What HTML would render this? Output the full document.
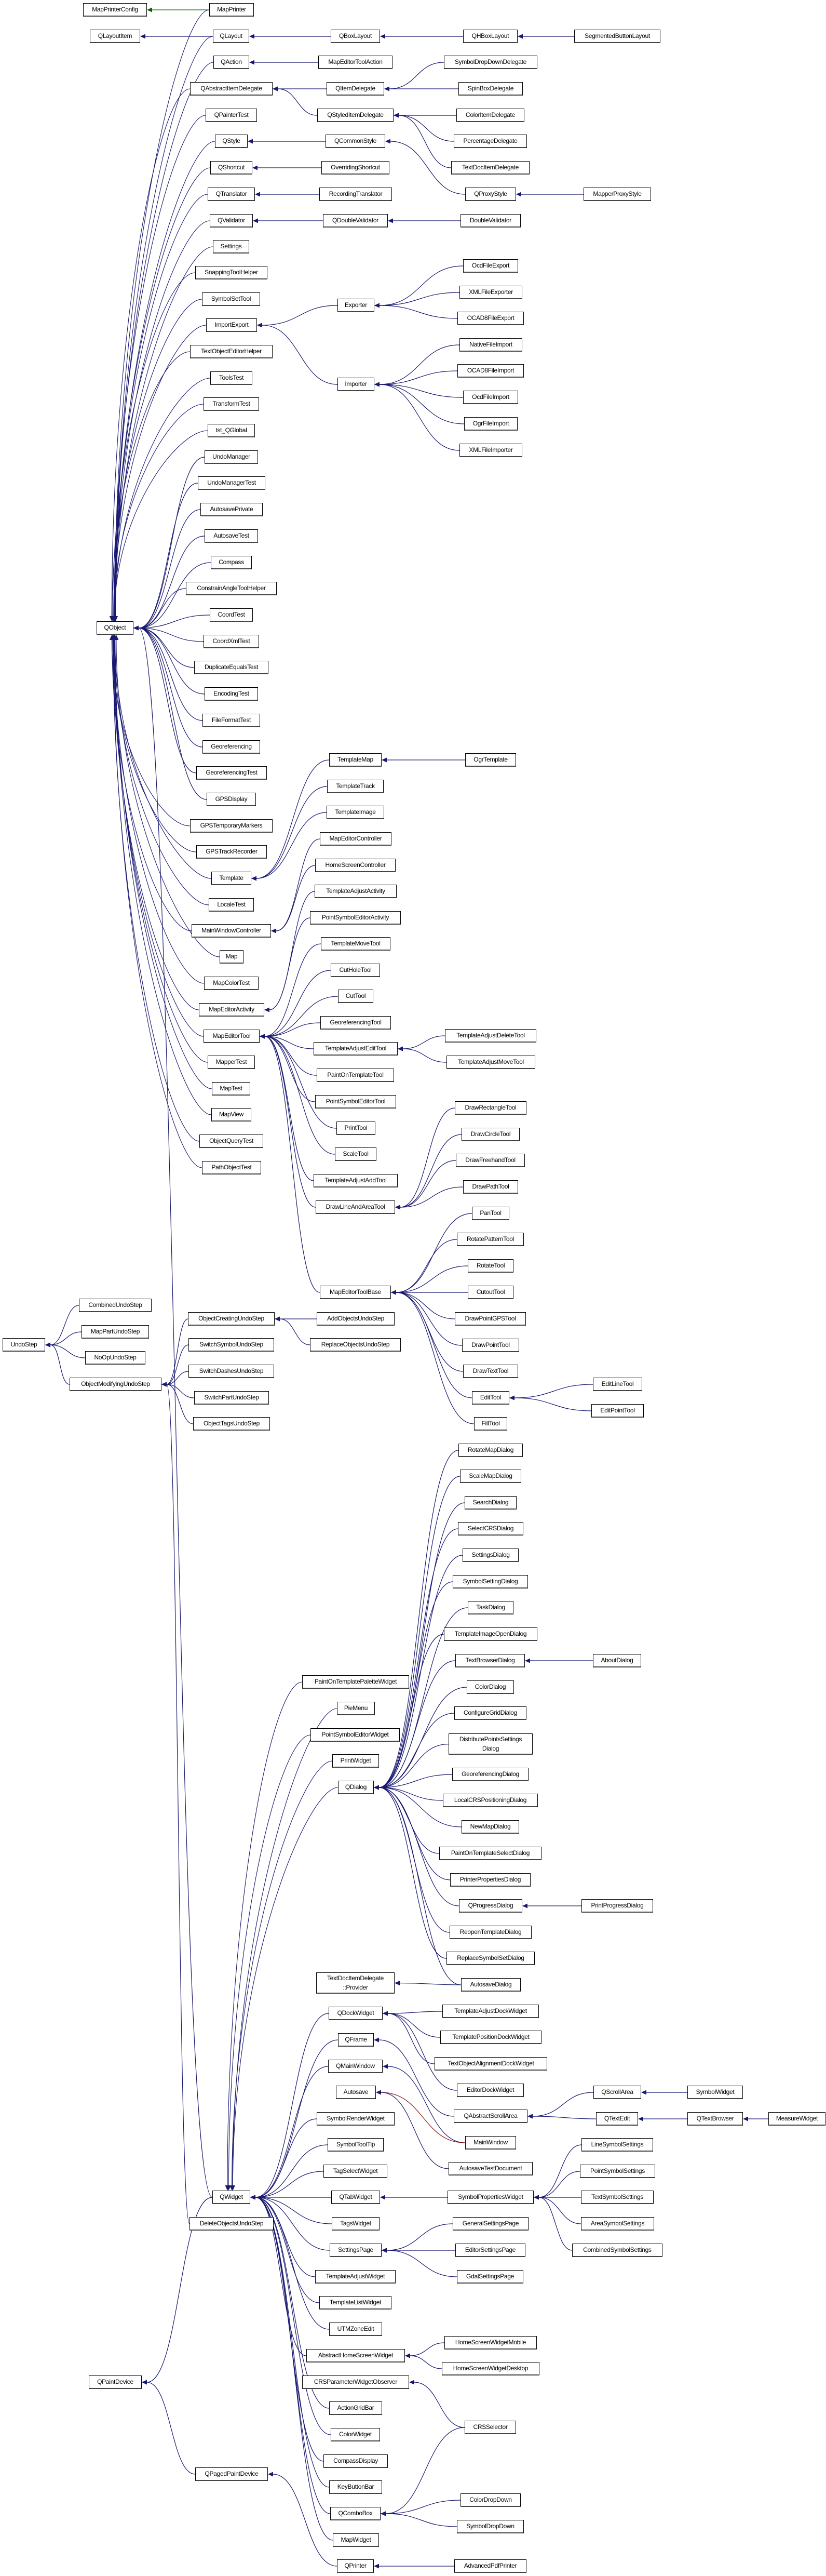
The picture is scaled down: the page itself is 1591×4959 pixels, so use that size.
<!DOCTYPE html>
<html><head><meta charset="utf-8">
<style>
html,body{margin:0;padding:0;background:#fff;}
body{width:1591px;height:4959px;position:relative;overflow:hidden;font-family:"Liberation Sans",sans-serif;}
.n{position:absolute;box-sizing:border-box;height:26px;background:#fff;border:1px solid #000;border-bottom:2px solid #444;font-size:12px;line-height:23px;text-align:center;white-space:nowrap;z-index:2;letter-spacing:-0.3px;}
.t{height:41px;line-height:18px;padding-top:1px;}
svg{position:absolute;left:0;top:0;z-index:1;}
</style></head><body>
<svg id="sv" width="1591" height="4959"></svg>
<div class="n" id="MapPrinterConfig" style="left:160px;top:6px;width:123px">MapPrinterConfig</div>
<div class="n" id="MapPrinter" style="left:403px;top:6px;width:86px">MapPrinter</div>
<div class="n" id="QLayoutItem" style="left:173px;top:57px;width:97px">QLayoutItem</div>
<div class="n" id="QLayout" style="left:410px;top:57px;width:70px">QLayout</div>
<div class="n" id="QBoxLayout" style="left:637px;top:57px;width:95px">QBoxLayout</div>
<div class="n" id="QHBoxLayout" style="left:892px;top:57px;width:105px">QHBoxLayout</div>
<div class="n" id="SegmentedButtonLayout" style="left:1106px;top:57px;width:166px">SegmentedButtonLayout</div>
<div class="n" id="QAction" style="left:411px;top:107px;width:69px">QAction</div>
<div class="n" id="MapEditorToolAction" style="left:613px;top:107px;width:143px">MapEditorToolAction</div>
<div class="n" id="SymbolDropDownDelegate" style="left:855px;top:107px;width:180px">SymbolDropDownDelegate</div>
<div class="n" id="QAbstractItemDelegate" style="left:366px;top:158px;width:159px">QAbstractItemDelegate</div>
<div class="n" id="QItemDelegate" style="left:629px;top:158px;width:111px">QItemDelegate</div>
<div class="n" id="SpinBoxDelegate" style="left:883px;top:158px;width:124px">SpinBoxDelegate</div>
<div class="n" id="QPainterTest" style="left:396px;top:209px;width:99px">QPainterTest</div>
<div class="n" id="QStyledItemDelegate" style="left:611px;top:209px;width:147px">QStyledItemDelegate</div>
<div class="n" id="ColorItemDelegate" style="left:879px;top:209px;width:131px">ColorItemDelegate</div>
<div class="n" id="QStyle" style="left:414px;top:259px;width:63px">QStyle</div>
<div class="n" id="QCommonStyle" style="left:627px;top:259px;width:115px">QCommonStyle</div>
<div class="n" id="PercentageDelegate" style="left:874px;top:259px;width:141px">PercentageDelegate</div>
<div class="n" id="QShortcut" style="left:405px;top:310px;width:81px">QShortcut</div>
<div class="n" id="OverridingShortcut" style="left:619px;top:310px;width:131px">OverridingShortcut</div>
<div class="n" id="TextDocItemDelegate" style="left:869px;top:310px;width:151px">TextDocItemDelegate</div>
<div class="n" id="QTranslator" style="left:400px;top:361px;width:91px">QTranslator</div>
<div class="n" id="RecordingTranslator" style="left:615px;top:361px;width:140px">RecordingTranslator</div>
<div class="n" id="QProxyStyle" style="left:896px;top:361px;width:98px">QProxyStyle</div>
<div class="n" id="MapperProxyStyle" style="left:1124px;top:361px;width:130px">MapperProxyStyle</div>
<div class="n" id="QValidator" style="left:404px;top:412px;width:83px">QValidator</div>
<div class="n" id="QDoubleValidator" style="left:622px;top:412px;width:125px">QDoubleValidator</div>
<div class="n" id="DoubleValidator" style="left:887px;top:412px;width:116px">DoubleValidator</div>
<div class="n" id="Settings" style="left:410px;top:462px;width:70px">Settings</div>
<div class="n" id="SnappingToolHelper" style="left:376px;top:512px;width:139px">SnappingToolHelper</div>
<div class="n" id="SymbolSetTool" style="left:389px;top:563px;width:112px">SymbolSetTool</div>
<div class="n" id="ImportExport" style="left:397px;top:613px;width:98px">ImportExport</div>
<div class="n" id="TextObjectEditorHelper" style="left:366px;top:664px;width:159px">TextObjectEditorHelper</div>
<div class="n" id="ToolsTest" style="left:405px;top:715px;width:81px">ToolsTest</div>
<div class="n" id="TransformTest" style="left:392px;top:765px;width:107px">TransformTest</div>
<div class="n" id="tst_QGlobal" style="left:400px;top:816px;width:91px">tst_QGlobal</div>
<div class="n" id="UndoManager" style="left:394px;top:867px;width:103px">UndoManager</div>
<div class="n" id="Exporter" style="left:650px;top:575px;width:71px">Exporter</div>
<div class="n" id="Importer" style="left:650px;top:727px;width:71px">Importer</div>
<div class="n" id="OcdFileExport" style="left:892px;top:499px;width:106px">OcdFileExport</div>
<div class="n" id="XMLFileExporter" style="left:885px;top:550px;width:121px">XMLFileExporter</div>
<div class="n" id="OCAD8FileExport" style="left:881px;top:600px;width:128px">OCAD8FileExport</div>
<div class="n" id="NativeFileImport" style="left:885px;top:651px;width:121px">NativeFileImport</div>
<div class="n" id="OCAD8FileImport" style="left:881px;top:701px;width:128px">OCAD8FileImport</div>
<div class="n" id="OcdFileImport" style="left:892px;top:752px;width:106px">OcdFileImport</div>
<div class="n" id="OgrFileImport" style="left:894px;top:803px;width:103px">OgrFileImport</div>
<div class="n" id="XMLFileImporter" style="left:885px;top:854px;width:121px">XMLFileImporter</div>
<div class="n" id="UndoManagerTest" style="left:381px;top:917px;width:130px">UndoManagerTest</div>
<div class="n" id="AutosavePrivate" style="left:386px;top:968px;width:120px">AutosavePrivate</div>
<div class="n" id="AutosaveTest" style="left:394px;top:1019px;width:103px">AutosaveTest</div>
<div class="n" id="Compass" style="left:406px;top:1070px;width:79px">Compass</div>
<div class="n" id="ConstrainAngleToolHelper" style="left:358px;top:1120px;width:175px">ConstrainAngleToolHelper</div>
<div class="n" id="CoordTest" style="left:404px;top:1171px;width:83px">CoordTest</div>
<div class="n" id="CoordXmlTest" style="left:392px;top:1222px;width:107px">CoordXmlTest</div>
<div class="n" id="DuplicateEqualsTest" style="left:374px;top:1272px;width:143px">DuplicateEqualsTest</div>
<div class="n" id="EncodingTest" style="left:394px;top:1323px;width:103px">EncodingTest</div>
<div class="n" id="QObject" style="left:186px;top:1196px;width:71px">QObject</div>
<div class="n" id="FileFormatTest" style="left:390px;top:1374px;width:111px">FileFormatTest</div>
<div class="n" id="Georeferencing" style="left:390px;top:1425px;width:111px">Georeferencing</div>
<div class="n" id="GeoreferencingTest" style="left:378px;top:1475px;width:136px">GeoreferencingTest</div>
<div class="n" id="GPSDisplay" style="left:398px;top:1526px;width:95px">GPSDisplay</div>
<div class="n" id="GPSTemporaryMarkers" style="left:366px;top:1577px;width:159px">GPSTemporaryMarkers</div>
<div class="n" id="GPSTrackRecorder" style="left:378px;top:1627px;width:136px">GPSTrackRecorder</div>
<div class="n" id="Template" style="left:407px;top:1678px;width:77px">Template</div>
<div class="n" id="LocaleTest" style="left:402px;top:1729px;width:87px">LocaleTest</div>
<div class="n" id="MainWindowController" style="left:369px;top:1779px;width:153px">MainWindowController</div>
<div class="n" id="TemplateMap" style="left:634px;top:1450px;width:101px">TemplateMap</div>
<div class="n" id="OgrTemplate" style="left:896px;top:1450px;width:98px">OgrTemplate</div>
<div class="n" id="TemplateTrack" style="left:630px;top:1501px;width:109px">TemplateTrack</div>
<div class="n" id="TemplateImage" style="left:629px;top:1551px;width:111px">TemplateImage</div>
<div class="n" id="MapEditorController" style="left:616px;top:1602px;width:138px">MapEditorController</div>
<div class="n" id="HomeScreenController" style="left:607px;top:1653px;width:155px">HomeScreenController</div>
<div class="n" id="TemplateAdjustActivity" style="left:606px;top:1703px;width:158px">TemplateAdjustActivity</div>
<div class="n" id="PointSymbolEditorActivity" style="left:597px;top:1754px;width:175px">PointSymbolEditorActivity</div>
<div class="n" id="Map" style="left:423px;top:1829px;width:46px">Map</div>
<div class="n" id="MapColorTest" style="left:393px;top:1880px;width:105px">MapColorTest</div>
<div class="n" id="MapEditorActivity" style="left:383px;top:1931px;width:126px">MapEditorActivity</div>
<div class="n" id="MapEditorTool" style="left:392px;top:1982px;width:108px">MapEditorTool</div>
<div class="n" id="MapperTest" style="left:400px;top:2032px;width:91px">MapperTest</div>
<div class="n" id="MapTest" style="left:408px;top:2083px;width:74px">MapTest</div>
<div class="n" id="MapView" style="left:407px;top:2133px;width:77px">MapView</div>
<div class="n" id="ObjectQueryTest" style="left:384px;top:2184px;width:123px">ObjectQueryTest</div>
<div class="n" id="PathObjectTest" style="left:389px;top:2235px;width:114px">PathObjectTest</div>
<div class="n" id="TemplateMoveTool" style="left:618px;top:1804px;width:134px">TemplateMoveTool</div>
<div class="n" id="CutHoleTool" style="left:637px;top:1855px;width:95px">CutHoleTool</div>
<div class="n" id="CutTool" style="left:651px;top:1905px;width:68px">CutTool</div>
<div class="n" id="GeoreferencingTool" style="left:617px;top:1956px;width:136px">GeoreferencingTool</div>
<div class="n" id="TemplateAdjustEditTool" style="left:604px;top:2006px;width:162px">TemplateAdjustEditTool</div>
<div class="n" id="PaintOnTemplateTool" style="left:610px;top:2057px;width:149px">PaintOnTemplateTool</div>
<div class="n" id="PointSymbolEditorTool" style="left:607px;top:2108px;width:156px">PointSymbolEditorTool</div>
<div class="n" id="PrintTool" style="left:648px;top:2159px;width:75px">PrintTool</div>
<div class="n" id="ScaleTool" style="left:645px;top:2209px;width:80px">ScaleTool</div>
<div class="n" id="TemplateAdjustDeleteTool" style="left:857px;top:1981px;width:176px">TemplateAdjustDeleteTool</div>
<div class="n" id="TemplateAdjustMoveTool" style="left:860px;top:2032px;width:171px">TemplateAdjustMoveTool</div>
<div class="n" id="DrawRectangleTool" style="left:876px;top:2120px;width:138px">DrawRectangleTool</div>
<div class="n" id="DrawCircleTool" style="left:889px;top:2171px;width:112px">DrawCircleTool</div>
<div class="n" id="DrawFreehandTool" style="left:878px;top:2221px;width:133px">DrawFreehandTool</div>
<div class="n" id="TemplateAdjustAddTool" style="left:604px;top:2260px;width:162px">TemplateAdjustAddTool</div>
<div class="n" id="DrawLineAndAreaTool" style="left:608px;top:2311px;width:153px">DrawLineAndAreaTool</div>
<div class="n" id="DrawPathTool" style="left:892px;top:2272px;width:106px">DrawPathTool</div>
<div class="n" id="PanTool" style="left:909px;top:2323px;width:72px">PanTool</div>
<div class="n" id="RotatePatternTool" style="left:880px;top:2373px;width:129px">RotatePatternTool</div>
<div class="n" id="RotateTool" style="left:901px;top:2424px;width:88px">RotateTool</div>
<div class="n" id="MapEditorToolBase" style="left:616px;top:2475px;width:137px">MapEditorToolBase</div>
<div class="n" id="CutoutTool" style="left:901px;top:2475px;width:88px">CutoutTool</div>
<div class="n" id="DrawPointGPSTool" style="left:876px;top:2526px;width:137px">DrawPointGPSTool</div>
<div class="n" id="DrawPointTool" style="left:890px;top:2577px;width:110px">DrawPointTool</div>
<div class="n" id="DrawTextTool" style="left:892px;top:2627px;width:106px">DrawTextTool</div>
<div class="n" id="EditTool" style="left:909px;top:2678px;width:72px">EditTool</div>
<div class="n" id="EditLineTool" style="left:1142px;top:2652px;width:95px">EditLineTool</div>
<div class="n" id="EditPointTool" style="left:1139px;top:2703px;width:101px">EditPointTool</div>
<div class="n" id="FillTool" style="left:913px;top:2728px;width:64px">FillTool</div>
<div class="n" id="CombinedUndoStep" style="left:152px;top:2500px;width:140px">CombinedUndoStep</div>
<div class="n" id="MapPartUndoStep" style="left:157px;top:2551px;width:130px">MapPartUndoStep</div>
<div class="n" id="UndoStep" style="left:5px;top:2576px;width:82px">UndoStep</div>
<div class="n" id="NoOpUndoStep" style="left:164px;top:2601px;width:116px">NoOpUndoStep</div>
<div class="n" id="ObjectModifyingUndoStep" style="left:134px;top:2652px;width:177px">ObjectModifyingUndoStep</div>
<div class="n" id="ObjectCreatingUndoStep" style="left:362px;top:2526px;width:167px">ObjectCreatingUndoStep</div>
<div class="n" id="AddObjectsUndoStep" style="left:610px;top:2526px;width:150px">AddObjectsUndoStep</div>
<div class="n" id="SwitchSymbolUndoStep" style="left:363px;top:2576px;width:165px">SwitchSymbolUndoStep</div>
<div class="n" id="ReplaceObjectsUndoStep" style="left:597px;top:2576px;width:175px">ReplaceObjectsUndoStep</div>
<div class="n" id="SwitchDashesUndoStep" style="left:363px;top:2627px;width:165px">SwitchDashesUndoStep</div>
<div class="n" id="SwitchPartUndoStep" style="left:374px;top:2678px;width:144px">SwitchPartUndoStep</div>
<div class="n" id="ObjectTagsUndoStep" style="left:372px;top:2728px;width:148px">ObjectTagsUndoStep</div>
<div class="n" id="RotateMapDialog" style="left:883px;top:2779px;width:124px">RotateMapDialog</div>
<div class="n" id="ScaleMapDialog" style="left:886px;top:2829px;width:118px">ScaleMapDialog</div>
<div class="n" id="SearchDialog" style="left:895px;top:2880px;width:100px">SearchDialog</div>
<div class="n" id="SelectCRSDialog" style="left:882px;top:2930px;width:126px">SelectCRSDialog</div>
<div class="n" id="SettingsDialog" style="left:891px;top:2981px;width:108px">SettingsDialog</div>
<div class="n" id="SymbolSettingDialog" style="left:872px;top:3032px;width:145px">SymbolSettingDialog</div>
<div class="n" id="TaskDialog" style="left:901px;top:3082px;width:88px">TaskDialog</div>
<div class="n" id="TemplateImageOpenDialog" style="left:855px;top:3133px;width:180px">TemplateImageOpenDialog</div>
<div class="n" id="TextBrowserDialog" style="left:877px;top:3184px;width:134px">TextBrowserDialog</div>
<div class="n" id="AboutDialog" style="left:1142px;top:3184px;width:93px">AboutDialog</div>
<div class="n" id="ColorDialog" style="left:899px;top:3235px;width:91px">ColorDialog</div>
<div class="n" id="ConfigureGridDialog" style="left:875px;top:3285px;width:139px">ConfigureGridDialog</div>
<div class="n t" id="DistributePointsSettingsDialog" style="left:864px;top:3337px;width:162px">DistributePointsSettings<br>Dialog</div>
<div class="n" id="GeoreferencingDialog" style="left:871px;top:3403px;width:147px">GeoreferencingDialog</div>
<div class="n" id="LocalCRSPositioningDialog" style="left:853px;top:3453px;width:183px">LocalCRSPositioningDialog</div>
<div class="n" id="NewMapDialog" style="left:889px;top:3504px;width:111px">NewMapDialog</div>
<div class="n" id="PaintOnTemplateSelectDialog" style="left:846px;top:3555px;width:197px">PaintOnTemplateSelectDialog</div>
<div class="n" id="PrinterPropertiesDialog" style="left:867px;top:3606px;width:155px">PrinterPropertiesDialog</div>
<div class="n" id="PaintOnTemplatePaletteWidget" style="left:582px;top:3225px;width:206px">PaintOnTemplatePaletteWidget</div>
<div class="n" id="PieMenu" style="left:649px;top:3276px;width:73px">PieMenu</div>
<div class="n" id="PointSymbolEditorWidget" style="left:598px;top:3327px;width:172px">PointSymbolEditorWidget</div>
<div class="n" id="PrintWidget" style="left:640px;top:3377px;width:90px">PrintWidget</div>
<div class="n" id="QDialog" style="left:651px;top:3428px;width:69px">QDialog</div>
<div class="n" id="QProgressDialog" style="left:884px;top:3656px;width:122px">QProgressDialog</div>
<div class="n" id="PrintProgressDialog" style="left:1120px;top:3656px;width:138px">PrintProgressDialog</div>
<div class="n" id="ReopenTemplateDialog" style="left:866px;top:3707px;width:158px">ReopenTemplateDialog</div>
<div class="n" id="ReplaceSymbolSetDialog" style="left:860px;top:3757px;width:170px">ReplaceSymbolSetDialog</div>
<div class="n" id="AutosaveDialog" style="left:888px;top:3808px;width:115px">AutosaveDialog</div>
<div class="n t" id="TDIDP" style="left:609px;top:3797px;width:151px">TextDocItemDelegate<br>::Provider</div>
<div class="n" id="QDockWidget" style="left:633px;top:3863px;width:104px">QDockWidget</div>
<div class="n" id="TemplateAdjustDockWidget" style="left:852px;top:3859px;width:186px">TemplateAdjustDockWidget</div>
<div class="n" id="TemplatePositionDockWidget" style="left:848px;top:3909px;width:195px">TemplatePositionDockWidget</div>
<div class="n" id="TextObjectAlignmentDockWidget" style="left:837px;top:3960px;width:217px">TextObjectAlignmentDockWidget</div>
<div class="n" id="QFrame" style="left:651px;top:3914px;width:69px">QFrame</div>
<div class="n" id="QMainWindow" style="left:632px;top:3965px;width:105px">QMainWindow</div>
<div class="n" id="Autosave" style="left:647px;top:4015px;width:77px">Autosave</div>
<div class="n" id="EditorDockWidget" style="left:880px;top:4011px;width:129px">EditorDockWidget</div>
<div class="n" id="QScrollArea" style="left:1143px;top:4015px;width:92px">QScrollArea</div>
<div class="n" id="SymbolWidget" style="left:1324px;top:4015px;width:107px">SymbolWidget</div>
<div class="n" id="QAbstractScrollArea" style="left:874px;top:4061px;width:142px">QAbstractScrollArea</div>
<div class="n" id="QTextEdit" style="left:1148px;top:4066px;width:81px">QTextEdit</div>
<div class="n" id="QTextBrowser" style="left:1324px;top:4066px;width:107px">QTextBrowser</div>
<div class="n" id="MeasureWidget" style="left:1480px;top:4066px;width:110px">MeasureWidget</div>
<div class="n" id="SymbolRenderWidget" style="left:610px;top:4066px;width:150px">SymbolRenderWidget</div>
<div class="n" id="MainWindow" style="left:896px;top:4112px;width:98px">MainWindow</div>
<div class="n" id="SymbolToolTip" style="left:631px;top:4116px;width:108px">SymbolToolTip</div>
<div class="n" id="AutosaveTestDocument" style="left:864px;top:4162px;width:162px">AutosaveTestDocument</div>
<div class="n" id="LineSymbolSettings" style="left:1120px;top:4116px;width:138px">LineSymbolSettings</div>
<div class="n" id="PointSymbolSettings" style="left:1117px;top:4167px;width:145px">PointSymbolSettings</div>
<div class="n" id="QWidget" style="left:409px;top:4217px;width:73px">QWidget</div>
<div class="n" id="QTabWidget" style="left:638px;top:4217px;width:94px">QTabWidget</div>
<div class="n" id="SymbolPropertiesWidget" style="left:862px;top:4217px;width:166px">SymbolPropertiesWidget</div>
<div class="n" id="TextSymbolSettings" style="left:1119px;top:4217px;width:140px">TextSymbolSettings</div>
<div class="n" id="TagSelectWidget" style="left:623px;top:4167px;width:123px">TagSelectWidget</div>
<div class="n" id="TagsWidget" style="left:639px;top:4268px;width:92px">TagsWidget</div>
<div class="n" id="DeleteObjectsUndoStep" style="left:365px;top:4268px;width:162px">DeleteObjectsUndoStep</div>
<div class="n" id="GeneralSettingsPage" style="left:872px;top:4268px;width:146px">GeneralSettingsPage</div>
<div class="n" id="AreaSymbolSettings" style="left:1119px;top:4268px;width:141px">AreaSymbolSettings</div>
<div class="n" id="SettingsPage" style="left:635px;top:4319px;width:100px">SettingsPage</div>
<div class="n" id="EditorSettingsPage" style="left:877px;top:4319px;width:135px">EditorSettingsPage</div>
<div class="n" id="CombinedSymbolSettings" style="left:1102px;top:4319px;width:174px">CombinedSymbolSettings</div>
<div class="n" id="TemplateAdjustWidget" style="left:607px;top:4370px;width:155px">TemplateAdjustWidget</div>
<div class="n" id="GdalSettingsPage" style="left:880px;top:4370px;width:128px">GdalSettingsPage</div>
<div class="n" id="TemplateListWidget" style="left:615px;top:4420px;width:139px">TemplateListWidget</div>
<div class="n" id="UTMZoneEdit" style="left:634px;top:4471px;width:102px">UTMZoneEdit</div>
<div class="n" id="HomeScreenWidgetMobile" style="left:856px;top:4497px;width:178px">HomeScreenWidgetMobile</div>
<div class="n" id="AbstractHomeScreenWidget" style="left:590px;top:4522px;width:190px">AbstractHomeScreenWidget</div>
<div class="n" id="HomeScreenWidgetDesktop" style="left:851px;top:4547px;width:188px">HomeScreenWidgetDesktop</div>
<div class="n" id="QPaintDevice" style="left:171px;top:4573px;width:102px">QPaintDevice</div>
<div class="n" id="CRSParameterWidgetObserver" style="left:582px;top:4573px;width:206px">CRSParameterWidgetObserver</div>
<div class="n" id="ActionGridBar" style="left:634px;top:4623px;width:102px">ActionGridBar</div>
<div class="n" id="ColorWidget" style="left:637px;top:4674px;width:95px">ColorWidget</div>
<div class="n" id="CRSSelector" style="left:895px;top:4660px;width:99px">CRSSelector</div>
<div class="n" id="CompassDisplay" style="left:623px;top:4725px;width:124px">CompassDisplay</div>
<div class="n" id="QPagedPaintDevice" style="left:376px;top:4750px;width:140px">QPagedPaintDevice</div>
<div class="n" id="KeyButtonBar" style="left:634px;top:4775px;width:102px">KeyButtonBar</div>
<div class="n" id="ColorDropDown" style="left:887px;top:4800px;width:116px">ColorDropDown</div>
<div class="n" id="QComboBox" style="left:636px;top:4826px;width:97px">QComboBox</div>
<div class="n" id="SymbolDropDown" style="left:880px;top:4851px;width:129px">SymbolDropDown</div>
<div class="n" id="MapWidget" style="left:641px;top:4877px;width:89px">MapWidget</div>
<div class="n" id="QPrinter" style="left:649px;top:4927px;width:71px">QPrinter</div>
<div class="n" id="AdvancedPdfPrinter" style="left:875px;top:4927px;width:139px">AdvancedPdfPrinter</div>
<script>
(function(){
var E=[];
function a(p,list,col){list.split(" ").forEach(function(c){E.push([c,p,col||"#191970"]);});}
E.push(["MapPrinter","MapPrinterConfig","#006400"]);
a("QObject","MapPrinter QLayout QAction QAbstractItemDelegate QPainterTest QStyle QShortcut QTranslator QValidator Settings SnappingToolHelper SymbolSetTool ImportExport TextObjectEditorHelper ToolsTest TransformTest tst_QGlobal UndoManager UndoManagerTest AutosavePrivate AutosaveTest Compass ConstrainAngleToolHelper CoordTest CoordXmlTest DuplicateEqualsTest EncodingTest FileFormatTest Georeferencing GeoreferencingTest GPSDisplay GPSTemporaryMarkers GPSTrackRecorder Template LocaleTest MainWindowController Map MapColorTest MapEditorActivity MapEditorTool MapperTest MapTest MapView ObjectQueryTest PathObjectTest QWidget");
a("QLayoutItem","QLayout");a("QLayout","QBoxLayout");a("QBoxLayout","QHBoxLayout");a("QHBoxLayout","SegmentedButtonLayout");
a("QAction","MapEditorToolAction");
a("QAbstractItemDelegate","QItemDelegate QStyledItemDelegate");
a("QItemDelegate","SymbolDropDownDelegate SpinBoxDelegate");
a("QStyledItemDelegate","ColorItemDelegate PercentageDelegate TextDocItemDelegate");
a("QStyle","QCommonStyle");a("QCommonStyle","QProxyStyle");a("QProxyStyle","MapperProxyStyle");
a("QShortcut","OverridingShortcut");a("QTranslator","RecordingTranslator");
a("QValidator","QDoubleValidator");a("QDoubleValidator","DoubleValidator");
a("ImportExport","Exporter Importer");
a("Exporter","OcdFileExport XMLFileExporter OCAD8FileExport");
a("Importer","NativeFileImport OCAD8FileImport OcdFileImport OgrFileImport XMLFileImporter");
a("Template","TemplateMap TemplateTrack TemplateImage");a("TemplateMap","OgrTemplate");
a("MainWindowController","MapEditorController HomeScreenController");
a("MapEditorActivity","TemplateAdjustActivity PointSymbolEditorActivity");
a("MapEditorTool","TemplateMoveTool CutHoleTool CutTool GeoreferencingTool TemplateAdjustEditTool PaintOnTemplateTool PointSymbolEditorTool PrintTool ScaleTool TemplateAdjustAddTool DrawLineAndAreaTool MapEditorToolBase");
a("TemplateAdjustEditTool","TemplateAdjustDeleteTool TemplateAdjustMoveTool");
a("DrawLineAndAreaTool","DrawRectangleTool DrawCircleTool DrawFreehandTool DrawPathTool");
a("MapEditorToolBase","PanTool RotatePatternTool RotateTool CutoutTool DrawPointGPSTool DrawPointTool DrawTextTool EditTool FillTool");
a("EditTool","EditLineTool EditPointTool");
a("UndoStep","CombinedUndoStep MapPartUndoStep NoOpUndoStep ObjectModifyingUndoStep");
a("ObjectModifyingUndoStep","ObjectCreatingUndoStep SwitchSymbolUndoStep SwitchDashesUndoStep SwitchPartUndoStep ObjectTagsUndoStep DeleteObjectsUndoStep");
a("ObjectCreatingUndoStep","AddObjectsUndoStep ReplaceObjectsUndoStep");
a("QDialog","RotateMapDialog ScaleMapDialog SearchDialog SelectCRSDialog SettingsDialog SymbolSettingDialog TaskDialog TemplateImageOpenDialog TextBrowserDialog ColorDialog ConfigureGridDialog DistributePointsSettingsDialog GeoreferencingDialog LocalCRSPositioningDialog NewMapDialog PaintOnTemplateSelectDialog PrinterPropertiesDialog QProgressDialog ReopenTemplateDialog ReplaceSymbolSetDialog AutosaveDialog");
a("TextBrowserDialog","AboutDialog");a("QProgressDialog","PrintProgressDialog");a("TDIDP","AutosaveDialog");
a("QWidget","PaintOnTemplatePaletteWidget PieMenu PointSymbolEditorWidget PrintWidget QDialog QDockWidget QFrame QMainWindow SymbolRenderWidget SymbolToolTip TagSelectWidget QTabWidget TagsWidget SettingsPage TemplateAdjustWidget TemplateListWidget UTMZoneEdit AbstractHomeScreenWidget ActionGridBar ColorWidget CompassDisplay KeyButtonBar QComboBox MapWidget");
a("QDockWidget","TemplateAdjustDockWidget TemplatePositionDockWidget TextObjectAlignmentDockWidget EditorDockWidget");
a("QFrame","QAbstractScrollArea");a("QMainWindow","MainWindow");
a("Autosave","MainWindow","#8b1a1a");a("Autosave","AutosaveTestDocument");
a("QAbstractScrollArea","QScrollArea QTextEdit");a("QScrollArea","SymbolWidget");a("QTextEdit","QTextBrowser");a("QTextBrowser","MeasureWidget");
a("QTabWidget","SymbolPropertiesWidget");
a("SymbolPropertiesWidget","LineSymbolSettings PointSymbolSettings TextSymbolSettings AreaSymbolSettings CombinedSymbolSettings");
a("SettingsPage","GeneralSettingsPage EditorSettingsPage GdalSettingsPage");
a("AbstractHomeScreenWidget","HomeScreenWidgetMobile HomeScreenWidgetDesktop");
a("CRSParameterWidgetObserver","CRSSelector");a("QComboBox","CRSSelector ColorDropDown SymbolDropDown");
a("QPaintDevice","QWidget QPagedPaintDevice");a("QPagedPaintDevice","QPrinter");a("QPrinter","AdvancedPdfPrinter");
var s="";
E.forEach(function(e){
 var c=document.getElementById(e[0]),p=document.getElementById(e[1]);
 if(!c||!p)return;
 var col=e[2];
 var x1=c.offsetLeft,y1=c.offsetTop+c.offsetHeight/2;
 var px=p.offsetLeft,pw=p.offsetWidth,pt=p.offsetTop,ph=p.offsetHeight;
 var x2=px+pw,y2=pt+ph/2;
 var dx=x1-x2,dy=y1-y2;
 var vert=Math.abs(dy)>2.5*Math.max(dx,10)&&Math.abs(dy)>120&&
   ((e[1]=="QObject"&&e[0]!="QWidget")||(e[1]=="QWidget"&&dy<0));
 if(vert){
  var off=Math.max(-pw*0.35,Math.min(pw*0.35,(dx-150)*0.15));
  var ex=px+pw*0.5+off;
  var up=dy<0;
  var ey=up?pt:pt+ph;
  var ay=up?ey-10:ey+10;
  var k=Math.min(60,(x1-ex)*0.6);
  var c2y=ay+(y1-ay)*0.55;
  s+='<path d="M'+x1+','+y1+' C'+(x1-k)+','+y1+' '+ex+','+c2y+' '+ex+','+ay+'" fill="none" stroke="'+col+'" stroke-width="1.1"/>';
  s+='<polygon points="'+ex+','+ey+' '+(ex-4.5)+','+ay+' '+(ex+4.5)+','+ay+'" fill="'+col+'"/>';
 } else {
  var ax=x2+10,k2=Math.max(20,(x1-ax)*0.5);
  s+='<path d="M'+x1+','+y1+' C'+(x1-k2)+','+y1+' '+(ax+k2)+','+y2+' '+ax+','+y2+'" fill="none" stroke="'+col+'" stroke-width="1.2"/>';
  s+='<polygon points="'+x2+','+y2+' '+ax+','+(y2-4.5)+' '+ax+','+(y2+4.5)+'" fill="'+col+'"/>';
 }
});
document.getElementById("sv").innerHTML=s;
})();
</script>
</body></html>
